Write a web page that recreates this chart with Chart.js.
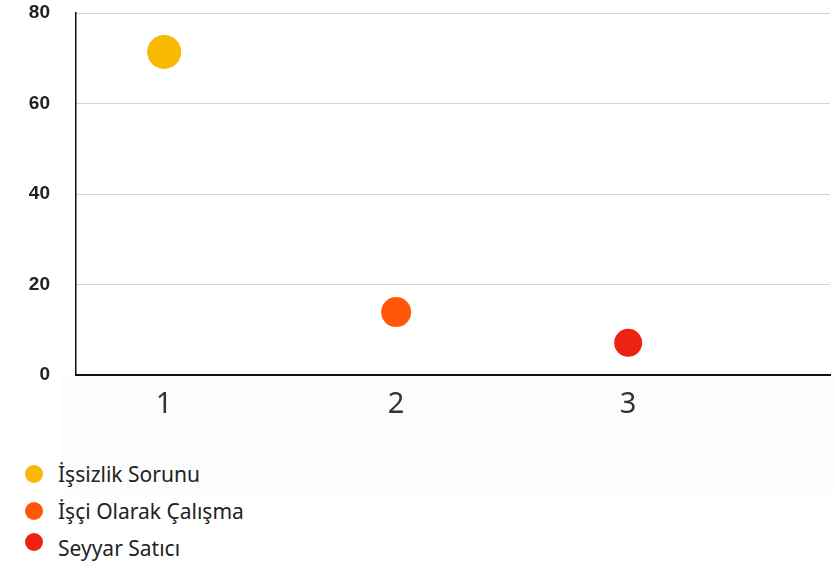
<!DOCTYPE html>
<html>
<head>
<meta charset="utf-8">
<script src="https://cdn.jsdelivr.net/npm/chart.js@4.4.0/dist/chart.umd.min.js"></script>
<style>
  html, body { margin: 0; padding: 0; background: #fff; }
  #wrap { position: relative; width: 834px; height: 566px; overflow: hidden; }
  #shade { position: absolute; left: 62px; top: 375px; width: 772px; height: 120px; background: #fcfcfc; }
  #chart { position: absolute; left: 0; top: 0; }
  #legend { position: absolute; left: 0; top: 0; }
  .item { position: absolute; left: 58px; font-family: "Noto Sans", sans-serif; font-size: 21px; color: #222; white-space: nowrap; line-height: 26px; }
  .dot { position: absolute; width: 18px; height: 18px; border-radius: 50%; left: 25px; }
</style>
</head>
<body>
<div id="wrap">
  <div id="shade"></div>
  <canvas id="chart" width="834" height="425"></canvas>
  <div id="legend"></div>
</div>
<script>
const seriesNames = ['İşsizlik Sorunu', 'İşçi Olarak Çalışma', 'Seyyar Satıcı'];
const xValues = [1, 2, 3];
const yValues = [71.4, 13.9, 7.1];
const colors = ['#f9b900', '#ff560a', '#ee2211'];
const radii = [17, 15, 14];
const xTicks = [1, 2, 3];
const yTicks = [0, 20, 40, 60, 80];

const datasets = seriesNames.map((name, i) => ({
    label: name,
    data: [{ x: xValues[i], y: yValues[i] }],
    backgroundColor: colors[i],
    borderColor: colors[i],
    pointRadius: radii[i],
    pointHoverRadius: radii[i],
    borderWidth: 0
}));

new Chart(document.getElementById('chart'), {
    type: 'scatter',
    data: { datasets },
    options: {
        responsive: false,
        animation: false,
        devicePixelRatio: 1,
        layout: { autoPadding: false, padding: { top: 13, right: 4, left: 0, bottom: 0 } },
        plugins: { legend: { display: false }, tooltip: { enabled: false } },
        scales: {
            x: {
                type: 'linear',
                min: 0.62,
                max: 3.87,
                afterBuildTicks: (axis) => { axis.ticks = xTicks.map(v => ({ value: v })); },
                afterFit: (axis) => { axis.height = 50; axis.paddingLeft = 0; axis.paddingRight = 0; },
                grid: { display: false, drawTicks: false },
                border: { color: '#111', width: 2 },
                ticks: {
                    padding: 12,
                    color: '#333',
                    font: { family: '"Noto Sans", sans-serif', size: 29 }
                }
            },
            y: {
                min: 0,
                max: 80,
                afterBuildTicks: (axis) => { axis.ticks = yTicks.map(v => ({ value: v })); },
                afterFit: (axis) => { axis.width = 76; axis.paddingTop = 0; axis.paddingBottom = 0; },
                grid: { color: '#d2d2d2', lineWidth: 1, drawTicks: false },
                border: { color: '#111', width: 1.5 },
                ticks: {
                    padding: 26,
                    color: '#222',
                    font: { family: '"Liberation Sans", Arial, sans-serif', size: 19, weight: 'bold' }
                }
            }
        }
    }
});

// legend below the chart, one row per series
const legend = document.getElementById('legend');
const rowY = [474, 511, 548];
seriesNames.forEach((name, i) => {
    const dot = document.createElement('div');
    dot.className = 'dot';
    dot.style.background = colors[i];
    dot.style.top = (rowY[i] - 9 + (i === 2 ? -6 : 0)) + 'px';
    legend.appendChild(dot);
    const t = document.createElement('div');
    t.className = 'item';
    t.textContent = name;
    t.style.top = (rowY[i] - 13) + 'px';
    legend.appendChild(t);
});
</script>
</body>
</html>
